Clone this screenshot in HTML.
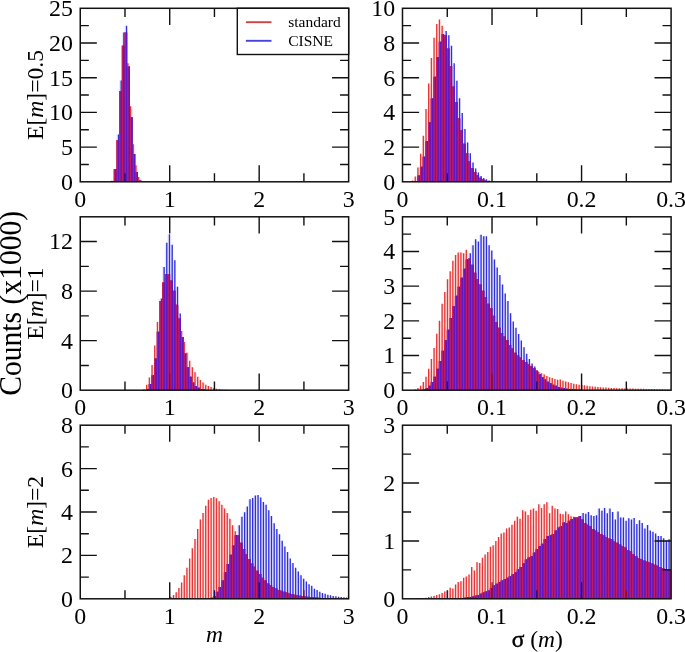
<!DOCTYPE html>
<html><head><meta charset="utf-8"><title>Counts histograms</title>
<style>html,body{margin:0;padding:0;background:#fff;}svg{display:block;}</style></head>
<body>
<svg width="685" height="652" viewBox="0 0 685 652">
<rect width="685" height="652" fill="#fff"/>
<defs>
<clipPath id="c00"><rect x="80.25" y="8.3" width="268.4" height="173.5"/></clipPath>
<clipPath id="c01"><rect x="402.5" y="8.3" width="268.6" height="173.5"/></clipPath>
<clipPath id="c10"><rect x="80.25" y="216.8" width="268.4" height="173.4"/></clipPath>
<clipPath id="c11"><rect x="402.5" y="216.8" width="268.6" height="173.4"/></clipPath>
<clipPath id="c20"><rect x="80.25" y="425.2" width="268.4" height="173.6"/></clipPath>
<clipPath id="c21"><rect x="402.5" y="425.2" width="268.6" height="173.6"/></clipPath>
<filter id="hb" filterUnits="userSpaceOnUse" x="0" y="0" width="685" height="652"><feGaussianBlur stdDeviation="0.55 0.25"/></filter>
</defs>
<g clip-path="url(#c00)" fill="none">
<path d="M112.46 181.8V180.76M115.14 181.8V169.31M117.83 181.8V140.16M120.51 181.8V90.89M123.19 181.8V45.78M125.88 181.8V32.59M128.56 181.8V63.13M131.25 181.8V106.15M133.93 181.8V144.32M136.61 181.8V165.14M139.3 181.8V176.94M141.98 181.8V180.41" stroke="#ffe2e2" stroke-width="2.72"/>
<path d="M112.46 181.8V181.11M115.14 181.8V169.31M117.83 181.8V134.61M120.51 181.8V80.48M123.19 181.8V32.59M125.88 181.8V25.65M128.56 181.8V66.6M131.25 181.8V117.26M133.93 181.8V154.04M136.61 181.8V172.08M139.3 181.8V180.41" stroke="#e6e6ff" stroke-width="2.72"/>
<path d="M112.46 181.8V181.11M115.14 181.8V169.31M117.83 181.8V140.16M120.51 181.8V90.89M123.19 181.8V45.78M125.88 181.8V32.59M128.56 181.8V66.6M131.25 181.8V117.26M133.93 181.8V154.04M136.61 181.8V172.08M139.3 181.8V180.41" stroke="#9a1890" stroke-width="2.72"/>
<path d="M111.79 181.8V180.76M114.47 181.8V169.31M117.15 181.8V140.16M119.84 181.8V90.89M122.52 181.8V45.78M125.21 181.8V32.59M127.89 181.8V63.13M130.57 181.8V106.15M133.26 181.8V144.32M135.94 181.8V165.14M138.63 181.8V176.94M141.31 181.8V180.41" stroke="#e43636" stroke-width="1.34"/>
<path d="M113.13 181.8V181.11M115.81 181.8V169.31M118.5 181.8V134.61M121.18 181.8V80.48M123.86 181.8V32.59M126.55 181.8V25.65M129.23 181.8V66.6M131.92 181.8V117.26M134.6 181.8V154.04M137.28 181.8V172.08M139.97 181.8V180.41" stroke="#3030d8" stroke-width="1.34"/>
<path d="M111.79 181.8V181.11M114.47 181.8V169.31M117.15 181.8V140.16M119.84 181.8V90.89M122.52 181.8V45.78M125.21 181.8V32.59M127.89 181.8V66.6M130.57 181.8V117.26M133.26 181.8V154.04M135.94 181.8V172.08M138.63 181.8V180.41" stroke="#c41a62" stroke-width="1.34"/>
<path d="M113.13 181.8V181.11M115.81 181.8V169.31M118.5 181.8V140.16M121.18 181.8V90.89M123.86 181.8V45.78M126.55 181.8V32.59M129.23 181.8V66.6M131.92 181.8V117.26M134.6 181.8V154.04M137.28 181.8V172.08M139.97 181.8V180.41" stroke="#6216c4" stroke-width="1.27"/>
</g>
<g clip-path="url(#c01)" fill="none">
<path d="M413.24 181.8V180.59M415.93 181.8V176.59M418.62 181.8V167.57M421.3 181.8V153.69M423.99 181.8V135.65M426.67 181.8V108.93M429.36 181.8V83.43M432.05 181.8V57.92M434.73 181.8V37.79M437.42 181.8V23.92M440.1 181.8V19.58M442.79 181.8V25.65M445.48 181.8V35.19M448.16 181.8V48.55M450.85 181.8V65.9M453.53 181.8V86.38M456.22 181.8V101.99M458.91 181.8V118.3M461.59 181.8V130.27M464.28 181.8V143.63M466.96 181.8V153.17M469.65 181.8V161.15M472.34 181.8V167.92M475.02 181.8V171.91M477.71 181.8V175.03M480.39 181.8V177.81M483.08 181.8V179.37M485.77 181.8V180.41M488.45 181.8V181.11" stroke="#ffe2e2" stroke-width="2.73"/>
<path d="M415.93 181.8V180.93M418.62 181.8V175.55M421.3 181.8V166.71M423.99 181.8V156.64M426.67 181.8V141.2M429.36 181.8V122.29M432.05 181.8V98.52M434.73 181.8V76.66M437.42 181.8V56.88M440.1 181.8V41.79M442.79 181.8V34.33M445.48 181.8V31.03M448.16 181.8V35.19M450.85 181.8V45.78M453.53 181.8V63.3M456.22 181.8V80.65M458.91 181.8V98.17M461.59 181.8V112.92M464.28 181.8V129.06M466.96 181.8V142.42M469.65 181.8V153.17M472.34 181.8V162.54M475.02 181.8V168.44M477.71 181.8V172.43M480.39 181.8V175.9M483.08 181.8V177.98M485.77 181.8V179.37M488.45 181.8V180.41M491.14 181.8V181.28" stroke="#e6e6ff" stroke-width="2.73"/>
<path d="M415.93 181.8V180.93M418.62 181.8V175.55M421.3 181.8V166.71M423.99 181.8V156.64M426.67 181.8V141.2M429.36 181.8V122.29M432.05 181.8V98.52M434.73 181.8V76.66M437.42 181.8V56.88M440.1 181.8V41.79M442.79 181.8V34.33M445.48 181.8V35.19M448.16 181.8V48.55M450.85 181.8V65.9M453.53 181.8V86.38M456.22 181.8V101.99M458.91 181.8V118.3M461.59 181.8V130.27M464.28 181.8V143.63M466.96 181.8V153.17M469.65 181.8V161.15M472.34 181.8V167.92M475.02 181.8V171.91M477.71 181.8V175.03M480.39 181.8V177.81M483.08 181.8V179.37M485.77 181.8V180.41M488.45 181.8V181.11" stroke="#9a1890" stroke-width="2.73"/>
<path d="M412.57 181.8V180.59M415.26 181.8V176.59M417.94 181.8V167.57M420.63 181.8V153.69M423.32 181.8V135.65M426 181.8V108.93M428.69 181.8V83.43M431.37 181.8V57.92M434.06 181.8V37.79M436.75 181.8V23.92M439.43 181.8V19.58M442.12 181.8V25.65M444.8 181.8V35.19M447.49 181.8V48.55M450.18 181.8V65.9M452.86 181.8V86.38M455.55 181.8V101.99M458.23 181.8V118.3M460.92 181.8V130.27M463.61 181.8V143.63M466.29 181.8V153.17M468.98 181.8V161.15M471.66 181.8V167.92M474.35 181.8V171.91M477.04 181.8V175.03M479.72 181.8V177.81M482.41 181.8V179.37M485.09 181.8V180.41M487.78 181.8V181.11" stroke="#e43636" stroke-width="1.34"/>
<path d="M416.6 181.8V180.93M419.29 181.8V175.55M421.97 181.8V166.71M424.66 181.8V156.64M427.35 181.8V141.2M430.03 181.8V122.29M432.72 181.8V98.52M435.4 181.8V76.66M438.09 181.8V56.88M440.78 181.8V41.79M443.46 181.8V34.33M446.15 181.8V31.03M448.83 181.8V35.19M451.52 181.8V45.78M454.21 181.8V63.3M456.89 181.8V80.65M459.58 181.8V98.17M462.26 181.8V112.92M464.95 181.8V129.06M467.64 181.8V142.42M470.32 181.8V153.17M473.01 181.8V162.54M475.69 181.8V168.44M478.38 181.8V172.43M481.07 181.8V175.9M483.75 181.8V177.98M486.44 181.8V179.37M489.12 181.8V180.41M491.81 181.8V181.28" stroke="#3030d8" stroke-width="1.34"/>
<path d="M415.26 181.8V180.93M417.94 181.8V175.55M420.63 181.8V166.71M423.32 181.8V156.64M426 181.8V141.2M428.69 181.8V122.29M431.37 181.8V98.52M434.06 181.8V76.66M436.75 181.8V56.88M439.43 181.8V41.79M442.12 181.8V34.33M444.8 181.8V35.19M447.49 181.8V48.55M450.18 181.8V65.9M452.86 181.8V86.38M455.55 181.8V101.99M458.23 181.8V118.3M460.92 181.8V130.27M463.61 181.8V143.63M466.29 181.8V153.17M468.98 181.8V161.15M471.66 181.8V167.92M474.35 181.8V171.91M477.04 181.8V175.03M479.72 181.8V177.81M482.41 181.8V179.37M485.09 181.8V180.41M487.78 181.8V181.11" stroke="#c41a62" stroke-width="1.34"/>
<path d="M416.6 181.8V180.93M419.29 181.8V175.55M421.97 181.8V166.71M424.66 181.8V156.64M427.35 181.8V141.2M430.03 181.8V122.29M432.72 181.8V98.52M435.4 181.8V76.66M438.09 181.8V56.88M440.78 181.8V41.79M443.46 181.8V34.33M446.15 181.8V35.19M448.83 181.8V48.55M451.52 181.8V65.9M454.21 181.8V86.38M456.89 181.8V101.99M459.58 181.8V118.3M462.26 181.8V130.27M464.95 181.8V143.63M467.64 181.8V153.17M470.32 181.8V161.15M473.01 181.8V167.92M475.69 181.8V171.91M478.38 181.8V175.03M481.07 181.8V177.81M483.75 181.8V179.37M486.44 181.8V180.41M489.12 181.8V181.11" stroke="#6216c4" stroke-width="1.28"/>
</g>
<g clip-path="url(#c10)" fill="none">
<path d="M144.67 390.2V389.33M147.35 390.2V384.63M150.03 390.2V377.44M152.72 390.2V365.06M155.4 390.2V345.61M158.09 390.2V322.08M160.77 390.2V301.02M163.45 390.2V282.44M166.14 390.2V274.27M168.82 390.2V274.27M171.51 390.2V280.46M174.19 390.2V290.74M176.87 390.2V304.74M179.56 390.2V318.61M182.24 390.2V331M184.93 390.2V341.9M187.61 390.2V352.8M190.29 390.2V360.72M192.98 390.2V367.29M195.66 390.2V372.36M198.35 390.2V376.7M201.03 390.2V379.92M203.71 390.2V382.52M206.4 390.2V384.63M209.08 390.2V386.11M211.77 390.2V387.1M214.45 390.2V387.97M217.13 390.2V388.71M219.82 390.2V389.09M222.5 390.2V389.46M225.19 390.2V389.7M227.87 390.2V389.83M230.55 390.2V389.95" stroke="#ffe2e2" stroke-width="2.72"/>
<path d="M147.35 390.2V389.09M150.03 390.2V384.01M152.72 390.2V375.34M155.4 390.2V358.62M158.09 390.2V331.74M160.77 390.2V298.55M163.45 390.2V266.96M166.14 390.2V242.81M168.82 390.2V234.14M171.51 390.2V244.67M174.19 390.2V260.15M176.87 390.2V286.66M179.56 390.2V313.53M182.24 390.2V336.94M184.93 390.2V353.54M187.61 390.2V367.29M190.29 390.2V376.7M192.98 390.2V382.52M195.66 390.2V386.11M198.35 390.2V387.85M201.03 390.2V388.96M203.71 390.2V389.58M206.4 390.2V389.95" stroke="#e6e6ff" stroke-width="2.72"/>
<path d="M147.35 390.2V389.09M150.03 390.2V384.01M152.72 390.2V375.34M155.4 390.2V358.62M158.09 390.2V331.74M160.77 390.2V301.02M163.45 390.2V282.44M166.14 390.2V274.27M168.82 390.2V274.27M171.51 390.2V280.46M174.19 390.2V290.74M176.87 390.2V304.74M179.56 390.2V318.61M182.24 390.2V336.94M184.93 390.2V353.54M187.61 390.2V367.29M190.29 390.2V376.7M192.98 390.2V382.52M195.66 390.2V386.11M198.35 390.2V387.85M201.03 390.2V388.96M203.71 390.2V389.58M206.4 390.2V389.95" stroke="#9a1890" stroke-width="2.72"/>
<path d="M144 390.2V389.33M146.68 390.2V384.63M149.36 390.2V377.44M152.05 390.2V365.06M154.73 390.2V345.61M157.42 390.2V322.08M160.1 390.2V301.02M162.78 390.2V282.44M165.47 390.2V274.27M168.15 390.2V274.27M170.83 390.2V280.46M173.52 390.2V290.74M176.2 390.2V304.74M178.89 390.2V318.61M181.57 390.2V331M184.25 390.2V341.9M186.94 390.2V352.8M189.62 390.2V360.72M192.31 390.2V367.29M194.99 390.2V372.36M197.68 390.2V376.7M200.36 390.2V379.92M203.04 390.2V382.52M205.73 390.2V384.63M208.41 390.2V386.11M211.09 390.2V387.1M213.78 390.2V387.97M216.46 390.2V388.71M219.15 390.2V389.09M221.83 390.2V389.46M224.51 390.2V389.7M227.2 390.2V389.83M229.88 390.2V389.95" stroke="#e43636" stroke-width="1.34"/>
<path d="M148.02 390.2V389.09M150.7 390.2V384.01M153.39 390.2V375.34M156.07 390.2V358.62M158.76 390.2V331.74M161.44 390.2V298.55M164.12 390.2V266.96M166.81 390.2V242.81M169.49 390.2V234.14M172.18 390.2V244.67M174.86 390.2V260.15M177.54 390.2V286.66M180.23 390.2V313.53M182.91 390.2V336.94M185.6 390.2V353.54M188.28 390.2V367.29M190.96 390.2V376.7M193.65 390.2V382.52M196.33 390.2V386.11M199.02 390.2V387.85M201.7 390.2V388.96M204.38 390.2V389.58M207.07 390.2V389.95" stroke="#3030d8" stroke-width="1.34"/>
<path d="M146.68 390.2V389.09M149.36 390.2V384.01M152.05 390.2V375.34M154.73 390.2V358.62M157.42 390.2V331.74M160.1 390.2V301.02M162.78 390.2V282.44M165.47 390.2V274.27M168.15 390.2V274.27M170.83 390.2V280.46M173.52 390.2V290.74M176.2 390.2V304.74M178.89 390.2V318.61M181.57 390.2V336.94M184.25 390.2V353.54M186.94 390.2V367.29M189.62 390.2V376.7M192.31 390.2V382.52M194.99 390.2V386.11M197.68 390.2V387.85M200.36 390.2V388.96M203.04 390.2V389.58M205.73 390.2V389.95" stroke="#c41a62" stroke-width="1.34"/>
<path d="M148.02 390.2V389.09M150.7 390.2V384.01M153.39 390.2V375.34M156.07 390.2V358.62M158.76 390.2V331.74M161.44 390.2V301.02M164.12 390.2V282.44M166.81 390.2V274.27M169.49 390.2V274.27M172.18 390.2V280.46M174.86 390.2V290.74M177.54 390.2V304.74M180.23 390.2V318.61M182.91 390.2V336.94M185.6 390.2V353.54M188.28 390.2V367.29M190.96 390.2V376.7M193.65 390.2V382.52M196.33 390.2V386.11M199.02 390.2V387.85M201.7 390.2V388.96M204.38 390.2V389.58M207.07 390.2V389.95" stroke="#6216c4" stroke-width="1.27"/>
</g>
<g clip-path="url(#c11)" fill="none">
<path d="M415.93 390.2V389.51M418.62 390.2V388.12M421.3 390.2V385.69M423.99 390.2V381.88M426.67 390.2V376.67M429.36 390.2V368.7M432.05 390.2V358.99M434.73 390.2V347.89M437.42 390.2V333.67M440.1 390.2V320.84M442.79 390.2V303.85M445.48 390.2V292.06M448.16 390.2V279.22M450.85 390.2V271.25M453.53 390.2V260.84M456.22 390.2V254.95M458.91 390.2V252.52M461.59 390.2V252.52M464.28 390.2V253.21M466.96 390.2V249.75M469.65 390.2V258.42M472.34 390.2V264.66M475.02 390.2V272.63M477.71 390.2V279.22M480.39 390.2V284.43M483.08 390.2V290.67M485.77 390.2V297.26M488.45 390.2V303.85M491.14 390.2V308.36M493.82 390.2V315.64M496.51 390.2V321.88M499.2 390.2V327.78M501.88 390.2V332.98M504.57 390.2V336.45M507.25 390.2V339.91M509.94 390.2V345.12M512.63 390.2V348.58M515.31 390.2V352.75M518 390.2V355.52M520.68 390.2V357.6M523.37 390.2V360.2M526.06 390.2V362.11M528.74 390.2V364.19M531.43 390.2V365.92M534.11 390.2V368M536.8 390.2V370.09M539.49 390.2V371.99M542.17 390.2V373.21M544.86 390.2V374.59M547.54 390.2V375.98M550.23 390.2V377.37M552.92 390.2V378.06M555.6 390.2V379.1M558.29 390.2V379.8M560.97 390.2V379.45M563.66 390.2V380.66M566.35 390.2V381.53M569.03 390.2V382.22M571.72 390.2V382.92M574.4 390.2V383.78M577.09 390.2V384.3M579.78 390.2V384.82M582.46 390.2V385.1M585.15 390.2V385.34M587.83 390.2V385.87M590.52 390.2V386.14M593.21 390.2V386.39M595.89 390.2V386.73M598.58 390.2V386.94M601.26 390.2V387.18M603.95 390.2V387.43M606.64 390.2V387.6M609.32 390.2V387.77M612.01 390.2V387.95M614.69 390.2V388.12M617.38 390.2V388.22M620.07 390.2V388.29M622.75 390.2V388.35M625.44 390.2V388.42M628.12 390.2V388.48M630.81 390.2V388.54M633.5 390.2V388.61M636.18 390.2V388.67M638.87 390.2V388.74M641.55 390.2V388.8M644.24 390.2V388.86M646.93 390.2V388.93M649.61 390.2V388.99M652.3 390.2V389.06M654.98 390.2V389.12M657.67 390.2V389.19M660.36 390.2V389.25M663.04 390.2V389.31M665.73 390.2V389.38M668.41 390.2V389.44M671.1 390.2V389.51" stroke="#ffe2e2" stroke-width="2.73"/>
<path d="M423.99 390.2V389.51M426.67 390.2V388.12M429.36 390.2V385.69M432.05 390.2V381.88M434.73 390.2V376.67M437.42 390.2V368.7M440.1 390.2V361.07M442.79 390.2V350.66M445.48 390.2V340.26M448.16 390.2V329.86M450.85 390.2V318.07M453.53 390.2V306.27M456.22 390.2V295.87M458.91 390.2V286.85M461.59 390.2V277.84M464.28 390.2V268.82M466.96 390.2V259.46M469.65 390.2V253.21M472.34 390.2V245.24M475.02 390.2V239.34M477.71 390.2V241.42M480.39 390.2V234.83M483.08 390.2V236.22M485.77 390.2V236.22M488.45 390.2V245.24M491.14 390.2V250.44M493.82 390.2V259.46M496.51 390.2V267.43M499.2 390.2V275.06M501.88 390.2V284.43M504.57 390.2V293.44M507.25 390.2V301.07M509.94 390.2V313.21M512.63 390.2V321.53M515.31 390.2V327.78M518 390.2V334.02M520.68 390.2V340.61M523.37 390.2V347.2M526.06 390.2V353.79M528.74 390.2V358.99M531.43 390.2V363.5M534.11 390.2V366.62M536.8 390.2V370.78M539.49 390.2V374.25M542.17 390.2V377.37M544.86 390.2V379.45M547.54 390.2V381.7M550.23 390.2V383.26M552.92 390.2V384.82M555.6 390.2V385.87M558.29 390.2V386.94M560.97 390.2V387.77M563.66 390.2V388.22M566.35 390.2V388.64M569.03 390.2V388.99M571.72 390.2V389.33M574.4 390.2V389.51M577.09 390.2V389.68M579.78 390.2V389.85" stroke="#e6e6ff" stroke-width="2.73"/>
<path d="M423.99 390.2V389.51M426.67 390.2V388.12M429.36 390.2V385.69M432.05 390.2V381.88M434.73 390.2V376.67M437.42 390.2V368.7M440.1 390.2V361.07M442.79 390.2V350.66M445.48 390.2V340.26M448.16 390.2V329.86M450.85 390.2V318.07M453.53 390.2V306.27M456.22 390.2V295.87M458.91 390.2V286.85M461.59 390.2V277.84M464.28 390.2V268.82M466.96 390.2V259.46M469.65 390.2V258.42M472.34 390.2V264.66M475.02 390.2V272.63M477.71 390.2V279.22M480.39 390.2V284.43M483.08 390.2V290.67M485.77 390.2V297.26M488.45 390.2V303.85M491.14 390.2V308.36M493.82 390.2V315.64M496.51 390.2V321.88M499.2 390.2V327.78M501.88 390.2V332.98M504.57 390.2V336.45M507.25 390.2V339.91M509.94 390.2V345.12M512.63 390.2V348.58M515.31 390.2V352.75M518 390.2V355.52M520.68 390.2V357.6M523.37 390.2V360.2M526.06 390.2V362.11M528.74 390.2V364.19M531.43 390.2V365.92M534.11 390.2V368M536.8 390.2V370.78M539.49 390.2V374.25M542.17 390.2V377.37M544.86 390.2V379.45M547.54 390.2V381.7M550.23 390.2V383.26M552.92 390.2V384.82M555.6 390.2V385.87M558.29 390.2V386.94M560.97 390.2V387.77M563.66 390.2V388.22M566.35 390.2V388.64M569.03 390.2V388.99M571.72 390.2V389.33M574.4 390.2V389.51M577.09 390.2V389.68M579.78 390.2V389.85" stroke="#9a1890" stroke-width="2.73"/>
<path d="M415.26 390.2V389.51M417.94 390.2V388.12M420.63 390.2V385.69M423.32 390.2V381.88M426 390.2V376.67M428.69 390.2V368.7M431.37 390.2V358.99M434.06 390.2V347.89M436.75 390.2V333.67M439.43 390.2V320.84M442.12 390.2V303.85M444.8 390.2V292.06M447.49 390.2V279.22M450.18 390.2V271.25M452.86 390.2V260.84M455.55 390.2V254.95M458.23 390.2V252.52M460.92 390.2V252.52M463.61 390.2V253.21M466.29 390.2V249.75M468.98 390.2V258.42M471.66 390.2V264.66M474.35 390.2V272.63M477.04 390.2V279.22M479.72 390.2V284.43M482.41 390.2V290.67M485.09 390.2V297.26M487.78 390.2V303.85M490.47 390.2V308.36M493.15 390.2V315.64M495.84 390.2V321.88M498.52 390.2V327.78M501.21 390.2V332.98M503.9 390.2V336.45M506.58 390.2V339.91M509.27 390.2V345.12M511.95 390.2V348.58M514.64 390.2V352.75M517.33 390.2V355.52M520.01 390.2V357.6M522.7 390.2V360.2M525.38 390.2V362.11M528.07 390.2V364.19M530.76 390.2V365.92M533.44 390.2V368M536.13 390.2V370.09M538.81 390.2V371.99M541.5 390.2V373.21M544.19 390.2V374.59M546.87 390.2V375.98M549.56 390.2V377.37M552.24 390.2V378.06M554.93 390.2V379.1M557.62 390.2V379.8M560.3 390.2V379.45M562.99 390.2V380.66M565.67 390.2V381.53M568.36 390.2V382.22M571.05 390.2V382.92M573.73 390.2V383.78M576.42 390.2V384.3M579.1 390.2V384.82M581.79 390.2V385.1M584.48 390.2V385.34M587.16 390.2V385.87M589.85 390.2V386.14M592.53 390.2V386.39M595.22 390.2V386.73M597.91 390.2V386.94M600.59 390.2V387.18M603.28 390.2V387.43M605.96 390.2V387.6M608.65 390.2V387.77M611.34 390.2V387.95M614.02 390.2V388.12M616.71 390.2V388.22M619.39 390.2V388.29M622.08 390.2V388.35M624.77 390.2V388.42M627.45 390.2V388.48M630.14 390.2V388.54M632.82 390.2V388.61M635.51 390.2V388.67M638.2 390.2V388.74M640.88 390.2V388.8M643.57 390.2V388.86M646.25 390.2V388.93M648.94 390.2V388.99M651.63 390.2V389.06M654.31 390.2V389.12M657 390.2V389.19M659.68 390.2V389.25M662.37 390.2V389.31M665.06 390.2V389.38M667.74 390.2V389.44M670.43 390.2V389.51" stroke="#e43636" stroke-width="1.34"/>
<path d="M424.66 390.2V389.51M427.35 390.2V388.12M430.03 390.2V385.69M432.72 390.2V381.88M435.4 390.2V376.67M438.09 390.2V368.7M440.78 390.2V361.07M443.46 390.2V350.66M446.15 390.2V340.26M448.83 390.2V329.86M451.52 390.2V318.07M454.21 390.2V306.27M456.89 390.2V295.87M459.58 390.2V286.85M462.26 390.2V277.84M464.95 390.2V268.82M467.64 390.2V259.46M470.32 390.2V253.21M473.01 390.2V245.24M475.69 390.2V239.34M478.38 390.2V241.42M481.07 390.2V234.83M483.75 390.2V236.22M486.44 390.2V236.22M489.12 390.2V245.24M491.81 390.2V250.44M494.5 390.2V259.46M497.18 390.2V267.43M499.87 390.2V275.06M502.55 390.2V284.43M505.24 390.2V293.44M507.93 390.2V301.07M510.61 390.2V313.21M513.3 390.2V321.53M515.98 390.2V327.78M518.67 390.2V334.02M521.36 390.2V340.61M524.04 390.2V347.2M526.73 390.2V353.79M529.41 390.2V358.99M532.1 390.2V363.5M534.79 390.2V366.62M537.47 390.2V370.78M540.16 390.2V374.25M542.84 390.2V377.37M545.53 390.2V379.45M548.22 390.2V381.7M550.9 390.2V383.26M553.59 390.2V384.82M556.27 390.2V385.87M558.96 390.2V386.94M561.65 390.2V387.77M564.33 390.2V388.22M567.02 390.2V388.64M569.7 390.2V388.99M572.39 390.2V389.33M575.08 390.2V389.51M577.76 390.2V389.68M580.45 390.2V389.85" stroke="#3030d8" stroke-width="1.34"/>
<path d="M423.32 390.2V389.51M426 390.2V388.12M428.69 390.2V385.69M431.37 390.2V381.88M434.06 390.2V376.67M436.75 390.2V368.7M439.43 390.2V361.07M442.12 390.2V350.66M444.8 390.2V340.26M447.49 390.2V329.86M450.18 390.2V318.07M452.86 390.2V306.27M455.55 390.2V295.87M458.23 390.2V286.85M460.92 390.2V277.84M463.61 390.2V268.82M466.29 390.2V259.46M468.98 390.2V258.42M471.66 390.2V264.66M474.35 390.2V272.63M477.04 390.2V279.22M479.72 390.2V284.43M482.41 390.2V290.67M485.09 390.2V297.26M487.78 390.2V303.85M490.47 390.2V308.36M493.15 390.2V315.64M495.84 390.2V321.88M498.52 390.2V327.78M501.21 390.2V332.98M503.9 390.2V336.45M506.58 390.2V339.91M509.27 390.2V345.12M511.95 390.2V348.58M514.64 390.2V352.75M517.33 390.2V355.52M520.01 390.2V357.6M522.7 390.2V360.2M525.38 390.2V362.11M528.07 390.2V364.19M530.76 390.2V365.92M533.44 390.2V368M536.13 390.2V370.78M538.81 390.2V374.25M541.5 390.2V377.37M544.19 390.2V379.45M546.87 390.2V381.7M549.56 390.2V383.26M552.24 390.2V384.82M554.93 390.2V385.87M557.62 390.2V386.94M560.3 390.2V387.77M562.99 390.2V388.22M565.67 390.2V388.64M568.36 390.2V388.99M571.05 390.2V389.33M573.73 390.2V389.51M576.42 390.2V389.68M579.1 390.2V389.85" stroke="#c41a62" stroke-width="1.34"/>
<path d="M424.66 390.2V389.51M427.35 390.2V388.12M430.03 390.2V385.69M432.72 390.2V381.88M435.4 390.2V376.67M438.09 390.2V368.7M440.78 390.2V361.07M443.46 390.2V350.66M446.15 390.2V340.26M448.83 390.2V329.86M451.52 390.2V318.07M454.21 390.2V306.27M456.89 390.2V295.87M459.58 390.2V286.85M462.26 390.2V277.84M464.95 390.2V268.82M467.64 390.2V259.46M470.32 390.2V258.42M473.01 390.2V264.66M475.69 390.2V272.63M478.38 390.2V279.22M481.07 390.2V284.43M483.75 390.2V290.67M486.44 390.2V297.26M489.12 390.2V303.85M491.81 390.2V308.36M494.5 390.2V315.64M497.18 390.2V321.88M499.87 390.2V327.78M502.55 390.2V332.98M505.24 390.2V336.45M507.93 390.2V339.91M510.61 390.2V345.12M513.3 390.2V348.58M515.98 390.2V352.75M518.67 390.2V355.52M521.36 390.2V357.6M524.04 390.2V360.2M526.73 390.2V362.11M529.41 390.2V364.19M532.1 390.2V365.92M534.79 390.2V368M537.47 390.2V370.78M540.16 390.2V374.25M542.84 390.2V377.37M545.53 390.2V379.45M548.22 390.2V381.7M550.9 390.2V383.26M553.59 390.2V384.82M556.27 390.2V385.87M558.96 390.2V386.94M561.65 390.2V387.77M564.33 390.2V388.22M567.02 390.2V388.64M569.7 390.2V388.99M572.39 390.2V389.33M575.08 390.2V389.51M577.76 390.2V389.68M580.45 390.2V389.85" stroke="#6216c4" stroke-width="1.28"/>
</g>
<g clip-path="url(#c20)" fill="none">
<path d="M163.45 598.8V598.54M166.14 598.8V598.37M168.82 598.8V598.15M171.51 598.8V596.63M174.19 598.8V594.89M176.87 598.8V592.29M179.56 598.8V587.95M182.24 598.8V582.52M184.93 598.8V575.15M187.61 598.8V567.77M190.29 598.8V558.44M192.98 598.8V548.24M195.66 598.8V539.12M198.35 598.8V528.93M201.03 598.8V519.59M203.71 598.8V513.08M206.4 598.8V505.71M209.08 598.8V499.85M211.77 598.8V497.89M214.45 598.8V497.03M217.13 598.8V498.33M219.82 598.8V501.15M222.5 598.8V504.84M225.19 598.8V508.53M227.87 598.8V513.08M230.55 598.8V518.73M233.24 598.8V525.24M235.92 598.8V531.31M238.61 598.8V535.22M241.29 598.8V542.81M243.97 598.8V549.11M246.66 598.8V553.88M249.34 598.8V559.31M252.03 598.8V563.43M254.71 598.8V566.68M257.39 598.8V570.81M260.08 598.8V574.06M262.76 598.8V577.75M265.45 598.8V580.57M268.13 598.8V583.39M270.81 598.8V585.13M273.5 598.8V587.08M276.18 598.8V588.6M278.87 598.8V589.9M281.55 598.8V590.77M284.23 598.8V591.86M286.92 598.8V592.62M289.6 598.8V593.38M292.29 598.8V594.03M294.97 598.8V594.68M297.65 598.8V595.2M300.34 598.8V595.76M303.02 598.8V596.2M305.71 598.8V596.5M308.39 598.8V596.85M311.07 598.8V597.06M313.76 598.8V597.28M316.44 598.8V597.5M319.13 598.8V597.71M321.81 598.8V597.93M324.49 598.8V598.04M327.18 598.8V598.15M329.86 598.8V598.26M332.55 598.8V598.37M335.23 598.8V598.47" stroke="#ffe2e2" stroke-width="2.72"/>
<path d="M206.4 598.8V598.58M209.08 598.8V598.37M211.77 598.8V597.71M214.45 598.8V595.98M217.13 598.8V591.64M219.82 598.8V587.08M222.5 598.8V580.57M225.19 598.8V572.33M227.87 598.8V564.08M230.55 598.8V554.75M233.24 598.8V545.42M235.92 598.8V535.22M238.61 598.8V525.24M241.29 598.8V516.77M243.97 598.8V512.22M246.66 598.8V506.57M249.34 598.8V499.2M252.03 598.8V497.89M254.71 598.8V495.51M257.39 598.8V495.07M260.08 598.8V497.46M262.76 598.8V502.02M265.45 598.8V504.84M268.13 598.8V510.26M270.81 598.8V515.91M273.5 598.8V523.28M276.18 598.8V528.93M278.87 598.8V534.35M281.55 598.8V540.86M284.23 598.8V546.5M286.92 598.8V551.93M289.6 598.8V558.44M292.29 598.8V563M294.97 598.8V567.77M297.65 598.8V571.46M300.34 598.8V575.15M303.02 598.8V578.84M305.71 598.8V581.44M308.39 598.8V584.26M311.07 598.8V585.78M313.76 598.8V588.82M316.44 598.8V589.9M319.13 598.8V591.64M321.81 598.8V592.94M324.49 598.8V593.81M327.18 598.8V594.68M329.86 598.8V595.33M332.55 598.8V595.98M335.23 598.8V596.3M337.91 598.8V596.63M340.6 598.8V597.06M343.28 598.8V597.28M345.97 598.8V597.5M348.65 598.8V597.71" stroke="#e6e6ff" stroke-width="2.72"/>
<path d="M206.4 598.8V598.58M209.08 598.8V598.37M211.77 598.8V597.71M214.45 598.8V595.98M217.13 598.8V591.64M219.82 598.8V587.08M222.5 598.8V580.57M225.19 598.8V572.33M227.87 598.8V564.08M230.55 598.8V554.75M233.24 598.8V545.42M235.92 598.8V535.22M238.61 598.8V535.22M241.29 598.8V542.81M243.97 598.8V549.11M246.66 598.8V553.88M249.34 598.8V559.31M252.03 598.8V563.43M254.71 598.8V566.68M257.39 598.8V570.81M260.08 598.8V574.06M262.76 598.8V577.75M265.45 598.8V580.57M268.13 598.8V583.39M270.81 598.8V585.13M273.5 598.8V587.08M276.18 598.8V588.6M278.87 598.8V589.9M281.55 598.8V590.77M284.23 598.8V591.86M286.92 598.8V592.62M289.6 598.8V593.38M292.29 598.8V594.03M294.97 598.8V594.68M297.65 598.8V595.2M300.34 598.8V595.76M303.02 598.8V596.2M305.71 598.8V596.5M308.39 598.8V596.85M311.07 598.8V597.06M313.76 598.8V597.28M316.44 598.8V597.5M319.13 598.8V597.71M321.81 598.8V597.93M324.49 598.8V598.04M327.18 598.8V598.15M329.86 598.8V598.26M332.55 598.8V598.37M335.23 598.8V598.47" stroke="#9a1890" stroke-width="2.72"/>
<path d="M162.78 598.8V598.54M165.47 598.8V598.37M168.15 598.8V598.15M170.83 598.8V596.63M173.52 598.8V594.89M176.2 598.8V592.29M178.89 598.8V587.95M181.57 598.8V582.52M184.25 598.8V575.15M186.94 598.8V567.77M189.62 598.8V558.44M192.31 598.8V548.24M194.99 598.8V539.12M197.68 598.8V528.93M200.36 598.8V519.59M203.04 598.8V513.08M205.73 598.8V505.71M208.41 598.8V499.85M211.09 598.8V497.89M213.78 598.8V497.03M216.46 598.8V498.33M219.15 598.8V501.15M221.83 598.8V504.84M224.51 598.8V508.53M227.2 598.8V513.08M229.88 598.8V518.73M232.57 598.8V525.24M235.25 598.8V531.31M237.94 598.8V535.22M240.62 598.8V542.81M243.3 598.8V549.11M245.99 598.8V553.88M248.67 598.8V559.31M251.35 598.8V563.43M254.04 598.8V566.68M256.72 598.8V570.81M259.41 598.8V574.06M262.09 598.8V577.75M264.77 598.8V580.57M267.46 598.8V583.39M270.14 598.8V585.13M272.83 598.8V587.08M275.51 598.8V588.6M278.19 598.8V589.9M280.88 598.8V590.77M283.56 598.8V591.86M286.25 598.8V592.62M288.93 598.8V593.38M291.61 598.8V594.03M294.3 598.8V594.68M296.98 598.8V595.2M299.67 598.8V595.76M302.35 598.8V596.2M305.04 598.8V596.5M307.72 598.8V596.85M310.4 598.8V597.06M313.09 598.8V597.28M315.77 598.8V597.5M318.45 598.8V597.71M321.14 598.8V597.93M323.82 598.8V598.04M326.51 598.8V598.15M329.19 598.8V598.26M331.87 598.8V598.37M334.56 598.8V598.47" stroke="#e43636" stroke-width="1.34"/>
<path d="M207.07 598.8V598.58M209.75 598.8V598.37M212.44 598.8V597.71M215.12 598.8V595.98M217.8 598.8V591.64M220.49 598.8V587.08M223.17 598.8V580.57M225.86 598.8V572.33M228.54 598.8V564.08M231.22 598.8V554.75M233.91 598.8V545.42M236.59 598.8V535.22M239.28 598.8V525.24M241.96 598.8V516.77M244.64 598.8V512.22M247.33 598.8V506.57M250.01 598.8V499.2M252.7 598.8V497.89M255.38 598.8V495.51M258.06 598.8V495.07M260.75 598.8V497.46M263.43 598.8V502.02M266.12 598.8V504.84M268.8 598.8V510.26M271.48 598.8V515.91M274.17 598.8V523.28M276.85 598.8V528.93M279.54 598.8V534.35M282.22 598.8V540.86M284.9 598.8V546.5M287.59 598.8V551.93M290.27 598.8V558.44M292.96 598.8V563M295.64 598.8V567.77M298.32 598.8V571.46M301.01 598.8V575.15M303.69 598.8V578.84M306.38 598.8V581.44M309.06 598.8V584.26M311.74 598.8V585.78M314.43 598.8V588.82M317.11 598.8V589.9M319.8 598.8V591.64M322.48 598.8V592.94M325.16 598.8V593.81M327.85 598.8V594.68M330.53 598.8V595.33M333.22 598.8V595.98M335.9 598.8V596.3M338.58 598.8V596.63M341.27 598.8V597.06M343.95 598.8V597.28M346.64 598.8V597.5M349.32 598.8V597.71" stroke="#3030d8" stroke-width="1.34"/>
<path d="M205.73 598.8V598.58M208.41 598.8V598.37M211.09 598.8V597.71M213.78 598.8V595.98M216.46 598.8V591.64M219.15 598.8V587.08M221.83 598.8V580.57M224.51 598.8V572.33M227.2 598.8V564.08M229.88 598.8V554.75M232.57 598.8V545.42M235.25 598.8V535.22M237.94 598.8V535.22M240.62 598.8V542.81M243.3 598.8V549.11M245.99 598.8V553.88M248.67 598.8V559.31M251.35 598.8V563.43M254.04 598.8V566.68M256.72 598.8V570.81M259.41 598.8V574.06M262.09 598.8V577.75M264.77 598.8V580.57M267.46 598.8V583.39M270.14 598.8V585.13M272.83 598.8V587.08M275.51 598.8V588.6M278.19 598.8V589.9M280.88 598.8V590.77M283.56 598.8V591.86M286.25 598.8V592.62M288.93 598.8V593.38M291.61 598.8V594.03M294.3 598.8V594.68M296.98 598.8V595.2M299.67 598.8V595.76M302.35 598.8V596.2M305.04 598.8V596.5M307.72 598.8V596.85M310.4 598.8V597.06M313.09 598.8V597.28M315.77 598.8V597.5M318.45 598.8V597.71M321.14 598.8V597.93M323.82 598.8V598.04M326.51 598.8V598.15M329.19 598.8V598.26M331.87 598.8V598.37M334.56 598.8V598.47" stroke="#c41a62" stroke-width="1.34"/>
<path d="M207.07 598.8V598.58M209.75 598.8V598.37M212.44 598.8V597.71M215.12 598.8V595.98M217.8 598.8V591.64M220.49 598.8V587.08M223.17 598.8V580.57M225.86 598.8V572.33M228.54 598.8V564.08M231.22 598.8V554.75M233.91 598.8V545.42M236.59 598.8V535.22M239.28 598.8V535.22M241.96 598.8V542.81M244.64 598.8V549.11M247.33 598.8V553.88M250.01 598.8V559.31M252.7 598.8V563.43M255.38 598.8V566.68M258.06 598.8V570.81M260.75 598.8V574.06M263.43 598.8V577.75M266.12 598.8V580.57M268.8 598.8V583.39M271.48 598.8V585.13M274.17 598.8V587.08M276.85 598.8V588.6M279.54 598.8V589.9M282.22 598.8V590.77M284.9 598.8V591.86M287.59 598.8V592.62M290.27 598.8V593.38M292.96 598.8V594.03M295.64 598.8V594.68M298.32 598.8V595.2M301.01 598.8V595.76M303.69 598.8V596.2M306.38 598.8V596.5M309.06 598.8V596.85M311.74 598.8V597.06M314.43 598.8V597.28M317.11 598.8V597.5M319.8 598.8V597.71M322.48 598.8V597.93M325.16 598.8V598.04M327.85 598.8V598.15M330.53 598.8V598.26M333.22 598.8V598.37M335.9 598.8V598.47" stroke="#6216c4" stroke-width="1.27"/>
</g>
<g clip-path="url(#c21)" fill="none">
<path d="M421.3 598.8V598.22M423.99 598.8V597.99M426.67 598.8V597.64M429.36 598.8V597.06M432.05 598.8V596.49M434.73 598.8V595.91M437.42 598.8V595.1M440.1 598.8V594.17M442.79 598.8V593.01M445.48 598.8V591.39M448.16 598.8V590.41M450.85 598.8V587.81M453.53 598.8V588.38M456.22 598.8V584.62M458.91 598.8V582.02M461.59 598.8V581.15M464.28 598.8V577.68M466.96 598.8V576.46M469.65 598.8V574.5M472.34 598.8V566.97M475.02 598.8V570.45M477.71 598.8V562.34M480.39 598.8V562.92M483.08 598.8V557.71M485.77 598.8V554.53M488.45 598.8V551.93M491.14 598.8V546.72M493.82 598.8V545.27M496.51 598.8V540.93M499.2 598.8V536.88M501.88 598.8V533.41M504.57 598.8V532.54M507.25 598.8V528.49M509.94 598.8V527.62M512.63 598.8V524.73M515.31 598.8V520.68M518 598.8V516.63M520.68 598.8V518.65M523.37 598.8V510.26M526.06 598.8V511.42M528.74 598.8V514.89M531.43 598.8V509.69M534.11 598.8V508.53M536.8 598.8V510.84M539.49 598.8V504.19M542.17 598.8V507.95M544.86 598.8V504.19M547.54 598.8V502.16M550.23 598.8V513.16M552.92 598.8V505.63M555.6 598.8V508.53M558.29 598.8V509.11M560.97 598.8V513.74M563.66 598.8V514.31M566.35 598.8V511.42M569.03 598.8V514.31M571.72 598.8V516.34M574.4 598.8V516.63M577.09 598.8V517.38M579.78 598.8V516.34M582.46 598.8V519.52M585.15 598.8V522.99M587.83 598.8V524.73M590.52 598.8V526.18M593.21 598.8V529.07M595.89 598.8V530.52M598.58 598.8V532.25M601.26 598.8V533.99M603.95 598.8V535.15M606.64 598.8V537.17M609.32 598.8V538.62M612.01 598.8V539.2M614.69 598.8V541.51M617.38 598.8V542.67M620.07 598.8V544.41M622.75 598.8V545.97M625.44 598.8V547.53M628.12 598.8V550.37M630.81 598.8V551.35M633.5 598.8V554.24M636.18 598.8V556.27M638.87 598.8V558.29M641.55 598.8V559.16M644.24 598.8V560.61M646.93 598.8V561.59M649.61 598.8V562.34M652.3 598.8V563.5M654.98 598.8V564.66M657.67 598.8V565.82M660.36 598.8V566.97M663.04 598.8V567.96M665.73 598.8V569.06M668.41 598.8V569.87M671.1 598.8V570.16" stroke="#ffe2e2" stroke-width="2.73"/>
<path d="M450.85 598.8V598.63M453.53 598.8V598.51M456.22 598.8V598.39M458.91 598.8V598.22M461.59 598.8V597.99M464.28 598.8V597.64M466.96 598.8V597.35M469.65 598.8V596.95M472.34 598.8V596.49M475.02 598.8V595.73M477.71 598.8V594.92M480.39 598.8V593.71M483.08 598.8V592.43M485.77 598.8V591.45M488.45 598.8V590.41M491.14 598.8V588.09M493.82 598.8V585.49M496.51 598.8V583.75M499.2 598.8V582.02M501.88 598.8V580.57M504.57 598.8V579.13M507.25 598.8V577.68M509.94 598.8V576.23M512.63 598.8V574.21M515.31 598.8V572.18M518 598.8V569.58M520.68 598.8V566.97M523.37 598.8V563.21M526.06 598.8V559.45M528.74 598.8V557.43M531.43 598.8V555.98M534.11 598.8V552.51M536.8 598.8V549.27M539.49 598.8V545.97M542.17 598.8V543.83M544.86 598.8V539.37M547.54 598.8V536.07M550.23 598.8V535.15M552.92 598.8V533.99M555.6 598.8V530.52M558.29 598.8V527.62M560.97 598.8V526.18M563.66 598.8V522.42M566.35 598.8V522.99M569.03 598.8V520.68M571.72 598.8V518.94M574.4 598.8V517.38M577.09 598.8V517.38M579.78 598.8V515.88M582.46 598.8V512.98M585.15 598.8V513.74M587.83 598.8V512M590.52 598.8V515.18M593.21 598.8V515.88M595.89 598.8V515.18M598.58 598.8V508.53M601.26 598.8V510.84M603.95 598.8V507.95M606.64 598.8V513.16M609.32 598.8V508.53M612.01 598.8V512M614.69 598.8V519.52M617.38 598.8V511.42M620.07 598.8V517.38M622.75 598.8V517.38M625.44 598.8V520.68M628.12 598.8V518.37M630.81 598.8V519.52M633.5 598.8V518.08M636.18 598.8V523.98M638.87 598.8V520.27M641.55 598.8V522.99M644.24 598.8V528.38M646.93 598.8V525.08M649.61 598.8V530.52M652.3 598.8V531.67M654.98 598.8V533.41M657.67 598.8V536.07M660.36 598.8V536.07M663.04 598.8V538.27M665.73 598.8V540.47M668.41 598.8V539.37M671.1 598.8V540.93" stroke="#e6e6ff" stroke-width="2.73"/>
<path d="M450.85 598.8V598.63M453.53 598.8V598.51M456.22 598.8V598.39M458.91 598.8V598.22M461.59 598.8V597.99M464.28 598.8V597.64M466.96 598.8V597.35M469.65 598.8V596.95M472.34 598.8V596.49M475.02 598.8V595.73M477.71 598.8V594.92M480.39 598.8V593.71M483.08 598.8V592.43M485.77 598.8V591.45M488.45 598.8V590.41M491.14 598.8V588.09M493.82 598.8V585.49M496.51 598.8V583.75M499.2 598.8V582.02M501.88 598.8V580.57M504.57 598.8V579.13M507.25 598.8V577.68M509.94 598.8V576.23M512.63 598.8V574.21M515.31 598.8V572.18M518 598.8V569.58M520.68 598.8V566.97M523.37 598.8V563.21M526.06 598.8V559.45M528.74 598.8V557.43M531.43 598.8V555.98M534.11 598.8V552.51M536.8 598.8V549.27M539.49 598.8V545.97M542.17 598.8V543.83M544.86 598.8V539.37M547.54 598.8V536.07M550.23 598.8V535.15M552.92 598.8V533.99M555.6 598.8V530.52M558.29 598.8V527.62M560.97 598.8V526.18M563.66 598.8V522.42M566.35 598.8V522.99M569.03 598.8V520.68M571.72 598.8V518.94M574.4 598.8V517.38M577.09 598.8V517.38M579.78 598.8V516.34M582.46 598.8V519.52M585.15 598.8V522.99M587.83 598.8V524.73M590.52 598.8V526.18M593.21 598.8V529.07M595.89 598.8V530.52M598.58 598.8V532.25M601.26 598.8V533.99M603.95 598.8V535.15M606.64 598.8V537.17M609.32 598.8V538.62M612.01 598.8V539.2M614.69 598.8V541.51M617.38 598.8V542.67M620.07 598.8V544.41M622.75 598.8V545.97M625.44 598.8V547.53M628.12 598.8V550.37M630.81 598.8V551.35M633.5 598.8V554.24M636.18 598.8V556.27M638.87 598.8V558.29M641.55 598.8V559.16M644.24 598.8V560.61M646.93 598.8V561.59M649.61 598.8V562.34M652.3 598.8V563.5M654.98 598.8V564.66M657.67 598.8V565.82M660.36 598.8V566.97M663.04 598.8V567.96M665.73 598.8V569.06M668.41 598.8V569.87M671.1 598.8V570.16" stroke="#9a1890" stroke-width="2.73"/>
<path d="M420.63 598.8V598.22M423.32 598.8V597.99M426 598.8V597.64M428.69 598.8V597.06M431.37 598.8V596.49M434.06 598.8V595.91M436.75 598.8V595.1M439.43 598.8V594.17M442.12 598.8V593.01M444.8 598.8V591.39M447.49 598.8V590.41M450.18 598.8V587.81M452.86 598.8V588.38M455.55 598.8V584.62M458.23 598.8V582.02M460.92 598.8V581.15M463.61 598.8V577.68M466.29 598.8V576.46M468.98 598.8V574.5M471.66 598.8V566.97M474.35 598.8V570.45M477.04 598.8V562.34M479.72 598.8V562.92M482.41 598.8V557.71M485.09 598.8V554.53M487.78 598.8V551.93M490.47 598.8V546.72M493.15 598.8V545.27M495.84 598.8V540.93M498.52 598.8V536.88M501.21 598.8V533.41M503.9 598.8V532.54M506.58 598.8V528.49M509.27 598.8V527.62M511.95 598.8V524.73M514.64 598.8V520.68M517.33 598.8V516.63M520.01 598.8V518.65M522.7 598.8V510.26M525.38 598.8V511.42M528.07 598.8V514.89M530.76 598.8V509.69M533.44 598.8V508.53M536.13 598.8V510.84M538.81 598.8V504.19M541.5 598.8V507.95M544.19 598.8V504.19M546.87 598.8V502.16M549.56 598.8V513.16M552.24 598.8V505.63M554.93 598.8V508.53M557.62 598.8V509.11M560.3 598.8V513.74M562.99 598.8V514.31M565.67 598.8V511.42M568.36 598.8V514.31M571.05 598.8V516.34M573.73 598.8V516.63M576.42 598.8V517.38M579.1 598.8V516.34M581.79 598.8V519.52M584.48 598.8V522.99M587.16 598.8V524.73M589.85 598.8V526.18M592.53 598.8V529.07M595.22 598.8V530.52M597.91 598.8V532.25M600.59 598.8V533.99M603.28 598.8V535.15M605.96 598.8V537.17M608.65 598.8V538.62M611.34 598.8V539.2M614.02 598.8V541.51M616.71 598.8V542.67M619.39 598.8V544.41M622.08 598.8V545.97M624.77 598.8V547.53M627.45 598.8V550.37M630.14 598.8V551.35M632.82 598.8V554.24M635.51 598.8V556.27M638.2 598.8V558.29M640.88 598.8V559.16M643.57 598.8V560.61M646.25 598.8V561.59M648.94 598.8V562.34M651.63 598.8V563.5M654.31 598.8V564.66M657 598.8V565.82M659.68 598.8V566.97M662.37 598.8V567.96M665.06 598.8V569.06M667.74 598.8V569.87M670.43 598.8V570.16" stroke="#e43636" stroke-width="1.34"/>
<path d="M451.52 598.8V598.63M454.21 598.8V598.51M456.89 598.8V598.39M459.58 598.8V598.22M462.26 598.8V597.99M464.95 598.8V597.64M467.64 598.8V597.35M470.32 598.8V596.95M473.01 598.8V596.49M475.69 598.8V595.73M478.38 598.8V594.92M481.07 598.8V593.71M483.75 598.8V592.43M486.44 598.8V591.45M489.12 598.8V590.41M491.81 598.8V588.09M494.5 598.8V585.49M497.18 598.8V583.75M499.87 598.8V582.02M502.55 598.8V580.57M505.24 598.8V579.13M507.93 598.8V577.68M510.61 598.8V576.23M513.3 598.8V574.21M515.98 598.8V572.18M518.67 598.8V569.58M521.36 598.8V566.97M524.04 598.8V563.21M526.73 598.8V559.45M529.41 598.8V557.43M532.1 598.8V555.98M534.79 598.8V552.51M537.47 598.8V549.27M540.16 598.8V545.97M542.84 598.8V543.83M545.53 598.8V539.37M548.22 598.8V536.07M550.9 598.8V535.15M553.59 598.8V533.99M556.27 598.8V530.52M558.96 598.8V527.62M561.65 598.8V526.18M564.33 598.8V522.42M567.02 598.8V522.99M569.7 598.8V520.68M572.39 598.8V518.94M575.08 598.8V517.38M577.76 598.8V517.38M580.45 598.8V515.88M583.13 598.8V512.98M585.82 598.8V513.74M588.51 598.8V512M591.19 598.8V515.18M593.88 598.8V515.88M596.56 598.8V515.18M599.25 598.8V508.53M601.94 598.8V510.84M604.62 598.8V507.95M607.31 598.8V513.16M609.99 598.8V508.53M612.68 598.8V512M615.37 598.8V519.52M618.05 598.8V511.42M620.74 598.8V517.38M623.42 598.8V517.38M626.11 598.8V520.68M628.8 598.8V518.37M631.48 598.8V519.52M634.17 598.8V518.08M636.85 598.8V523.98M639.54 598.8V520.27M642.23 598.8V522.99M644.91 598.8V528.38M647.6 598.8V525.08M650.28 598.8V530.52M652.97 598.8V531.67M655.66 598.8V533.41M658.34 598.8V536.07M661.03 598.8V536.07M663.71 598.8V538.27M666.4 598.8V540.47M669.09 598.8V539.37M671.77 598.8V540.93" stroke="#3030d8" stroke-width="1.34"/>
<path d="M450.18 598.8V598.63M452.86 598.8V598.51M455.55 598.8V598.39M458.23 598.8V598.22M460.92 598.8V597.99M463.61 598.8V597.64M466.29 598.8V597.35M468.98 598.8V596.95M471.66 598.8V596.49M474.35 598.8V595.73M477.04 598.8V594.92M479.72 598.8V593.71M482.41 598.8V592.43M485.09 598.8V591.45M487.78 598.8V590.41M490.47 598.8V588.09M493.15 598.8V585.49M495.84 598.8V583.75M498.52 598.8V582.02M501.21 598.8V580.57M503.9 598.8V579.13M506.58 598.8V577.68M509.27 598.8V576.23M511.95 598.8V574.21M514.64 598.8V572.18M517.33 598.8V569.58M520.01 598.8V566.97M522.7 598.8V563.21M525.38 598.8V559.45M528.07 598.8V557.43M530.76 598.8V555.98M533.44 598.8V552.51M536.13 598.8V549.27M538.81 598.8V545.97M541.5 598.8V543.83M544.19 598.8V539.37M546.87 598.8V536.07M549.56 598.8V535.15M552.24 598.8V533.99M554.93 598.8V530.52M557.62 598.8V527.62M560.3 598.8V526.18M562.99 598.8V522.42M565.67 598.8V522.99M568.36 598.8V520.68M571.05 598.8V518.94M573.73 598.8V517.38M576.42 598.8V517.38M579.1 598.8V516.34M581.79 598.8V519.52M584.48 598.8V522.99M587.16 598.8V524.73M589.85 598.8V526.18M592.53 598.8V529.07M595.22 598.8V530.52M597.91 598.8V532.25M600.59 598.8V533.99M603.28 598.8V535.15M605.96 598.8V537.17M608.65 598.8V538.62M611.34 598.8V539.2M614.02 598.8V541.51M616.71 598.8V542.67M619.39 598.8V544.41M622.08 598.8V545.97M624.77 598.8V547.53M627.45 598.8V550.37M630.14 598.8V551.35M632.82 598.8V554.24M635.51 598.8V556.27M638.2 598.8V558.29M640.88 598.8V559.16M643.57 598.8V560.61M646.25 598.8V561.59M648.94 598.8V562.34M651.63 598.8V563.5M654.31 598.8V564.66M657 598.8V565.82M659.68 598.8V566.97M662.37 598.8V567.96M665.06 598.8V569.06M667.74 598.8V569.87M670.43 598.8V570.16" stroke="#c41a62" stroke-width="1.34"/>
<path d="M451.52 598.8V598.63M454.21 598.8V598.51M456.89 598.8V598.39M459.58 598.8V598.22M462.26 598.8V597.99M464.95 598.8V597.64M467.64 598.8V597.35M470.32 598.8V596.95M473.01 598.8V596.49M475.69 598.8V595.73M478.38 598.8V594.92M481.07 598.8V593.71M483.75 598.8V592.43M486.44 598.8V591.45M489.12 598.8V590.41M491.81 598.8V588.09M494.5 598.8V585.49M497.18 598.8V583.75M499.87 598.8V582.02M502.55 598.8V580.57M505.24 598.8V579.13M507.93 598.8V577.68M510.61 598.8V576.23M513.3 598.8V574.21M515.98 598.8V572.18M518.67 598.8V569.58M521.36 598.8V566.97M524.04 598.8V563.21M526.73 598.8V559.45M529.41 598.8V557.43M532.1 598.8V555.98M534.79 598.8V552.51M537.47 598.8V549.27M540.16 598.8V545.97M542.84 598.8V543.83M545.53 598.8V539.37M548.22 598.8V536.07M550.9 598.8V535.15M553.59 598.8V533.99M556.27 598.8V530.52M558.96 598.8V527.62M561.65 598.8V526.18M564.33 598.8V522.42M567.02 598.8V522.99M569.7 598.8V520.68M572.39 598.8V518.94M575.08 598.8V517.38M577.76 598.8V517.38M580.45 598.8V516.34M583.13 598.8V519.52M585.82 598.8V522.99M588.51 598.8V524.73M591.19 598.8V526.18M593.88 598.8V529.07M596.56 598.8V530.52M599.25 598.8V532.25M601.94 598.8V533.99M604.62 598.8V535.15M607.31 598.8V537.17M609.99 598.8V538.62M612.68 598.8V539.2M615.37 598.8V541.51M618.05 598.8V542.67M620.74 598.8V544.41M623.42 598.8V545.97M626.11 598.8V547.53M628.8 598.8V550.37M631.48 598.8V551.35M634.17 598.8V554.24M636.85 598.8V556.27M639.54 598.8V558.29M642.23 598.8V559.16M644.91 598.8V560.61M647.6 598.8V561.59M650.28 598.8V562.34M652.97 598.8V563.5M655.66 598.8V564.66M658.34 598.8V565.82M661.03 598.8V566.97M663.71 598.8V567.96M666.4 598.8V569.06M669.09 598.8V569.87M671.77 598.8V570.16" stroke="#6216c4" stroke-width="1.28"/>
</g>
<path d="M124.98 181.8v-8.6" stroke="#14106e" stroke-width="1.25" fill="none"/>
<path d="M169.72 181.8v-16.6M214.45 181.8v-8.6M259.18 181.8v-16.6M303.92 181.8v-8.6" stroke="#111" stroke-width="1.4" fill="none"/>
<path d="M124.98 8.3v8.6M169.72 8.3v16.6M214.45 8.3v8.6M259.18 8.3v16.6M303.92 8.3v8.6M80.25 164.45h8.6M348.65 164.45h-8.6M80.25 147.1h16.6M348.65 147.1h-16.6M80.25 129.75h8.6M348.65 129.75h-8.6M80.25 112.4h16.6M348.65 112.4h-16.6M80.25 95.05h8.6M348.65 95.05h-8.6M80.25 77.7h16.6M348.65 77.7h-16.6M80.25 60.35h8.6M348.65 60.35h-8.6M80.25 43h16.6M348.65 43h-16.6M80.25 25.65h8.6M348.65 25.65h-8.6" stroke="#111" stroke-width="1.4" fill="none"/>
<rect x="80.25" y="8.3" width="268.4" height="173.5" fill="none" stroke="#111" stroke-width="1.5"/>
<path d="M447.27 181.8v-8.6" stroke="#14106e" stroke-width="1.25" fill="none"/>
<path d="M492.03 181.8v-16.6M536.8 181.8v-8.6M581.57 181.8v-16.6M626.33 181.8v-8.6" stroke="#111" stroke-width="1.4" fill="none"/>
<path d="M447.27 8.3v8.6M492.03 8.3v16.6M536.8 8.3v8.6M581.57 8.3v16.6M626.33 8.3v8.6M402.5 164.45h8.6M671.1 164.45h-8.6M402.5 147.1h16.6M671.1 147.1h-16.6M402.5 129.75h8.6M671.1 129.75h-8.6M402.5 112.4h16.6M671.1 112.4h-16.6M402.5 95.05h8.6M671.1 95.05h-8.6M402.5 77.7h16.6M671.1 77.7h-16.6M402.5 60.35h8.6M671.1 60.35h-8.6M402.5 43h16.6M671.1 43h-16.6M402.5 25.65h8.6M671.1 25.65h-8.6" stroke="#111" stroke-width="1.4" fill="none"/>
<rect x="402.5" y="8.3" width="268.6" height="173.5" fill="none" stroke="#111" stroke-width="1.5"/>
<path d="M169.72 390.2v-16.6" stroke="#8c0a24" stroke-width="1.25" fill="none"/>
<path d="M124.98 390.2v-8.6M214.45 390.2v-8.6M259.18 390.2v-16.6M303.92 390.2v-8.6" stroke="#111" stroke-width="1.4" fill="none"/>
<path d="M124.98 216.8v8.6M169.72 216.8v16.6M214.45 216.8v8.6M259.18 216.8v16.6M303.92 216.8v8.6M80.25 365.43h8.6M348.65 365.43h-8.6M80.25 340.66h16.6M348.65 340.66h-16.6M80.25 315.89h8.6M348.65 315.89h-8.6M80.25 291.11h16.6M348.65 291.11h-16.6M80.25 266.34h8.6M348.65 266.34h-8.6M80.25 241.57h16.6M348.65 241.57h-16.6" stroke="#111" stroke-width="1.4" fill="none"/>
<rect x="80.25" y="216.8" width="268.4" height="173.4" fill="none" stroke="#111" stroke-width="1.5"/>
<path d="M447.27 390.2v-8.6" stroke="#14106e" stroke-width="1.25" fill="none"/>
<path d="M492.03 390.2v-16.6" stroke="#8c0a24" stroke-width="1.25" fill="none"/>
<path d="M536.8 390.2v-8.6" stroke="#14106e" stroke-width="1.25" fill="none"/>
<path d="M581.57 390.2v-16.6M626.33 390.2v-8.6" stroke="#111" stroke-width="1.4" fill="none"/>
<path d="M447.27 216.8v8.6M492.03 216.8v16.6M536.8 216.8v8.6M581.57 216.8v16.6M626.33 216.8v8.6M402.5 372.86h8.6M671.1 372.86h-8.6M402.5 355.52h16.6M671.1 355.52h-16.6M402.5 338.18h8.6M671.1 338.18h-8.6M402.5 320.84h16.6M671.1 320.84h-16.6M402.5 303.5h8.6M671.1 303.5h-8.6M402.5 286.16h16.6M671.1 286.16h-16.6M402.5 268.82h8.6M671.1 268.82h-8.6M402.5 251.48h16.6M671.1 251.48h-16.6M402.5 234.14h8.6M671.1 234.14h-8.6" stroke="#111" stroke-width="1.4" fill="none"/>
<rect x="402.5" y="216.8" width="268.6" height="173.4" fill="none" stroke="#111" stroke-width="1.5"/>
<path d="M214.45 598.8v-8.6" stroke="#14106e" stroke-width="1.25" fill="none"/>
<path d="M259.18 598.8v-16.6" stroke="#100c60" stroke-width="1.25" fill="none"/>
<path d="M303.92 598.8v-8.6" stroke="#8c0a24" stroke-width="1.25" fill="none"/>
<path d="M124.98 598.8v-8.6M169.72 598.8v-16.6" stroke="#111" stroke-width="1.4" fill="none"/>
<path d="M124.98 425.2v8.6M169.72 425.2v16.6M214.45 425.2v8.6M259.18 425.2v16.6M303.92 425.2v8.6M80.25 577.1h8.6M348.65 577.1h-8.6M80.25 555.4h16.6M348.65 555.4h-16.6M80.25 533.7h8.6M348.65 533.7h-8.6M80.25 512h16.6M348.65 512h-16.6M80.25 490.3h8.6M348.65 490.3h-8.6M80.25 468.6h16.6M348.65 468.6h-16.6M80.25 446.9h8.6M348.65 446.9h-8.6" stroke="#111" stroke-width="1.4" fill="none"/>
<rect x="80.25" y="425.2" width="268.4" height="173.6" fill="none" stroke="#111" stroke-width="1.5"/>
<path d="M447.27 598.8v-8.6" stroke="#14106e" stroke-width="1.25" fill="none"/>
<path d="M492.03 598.8v-16.6" stroke="#8c0a24" stroke-width="1.25" fill="none"/>
<path d="M536.8 598.8v-8.6" stroke="#14106e" stroke-width="1.25" fill="none"/>
<path d="M581.57 598.8v-16.6" stroke="#100c60" stroke-width="1.25" fill="none"/>
<path d="M626.33 598.8v-8.6" stroke="#8c0a24" stroke-width="1.25" fill="none"/>
<path d="" stroke="#111" stroke-width="1.4" fill="none"/>
<path d="M447.27 425.2v8.6M492.03 425.2v16.6M536.8 425.2v8.6M581.57 425.2v16.6M626.33 425.2v8.6M402.5 569.87h8.6M671.1 569.87h-8.6M402.5 540.93h16.6M671.1 540.93h-16.6M402.5 512h8.6M671.1 512h-8.6M402.5 483.07h16.6M671.1 483.07h-16.6M402.5 454.13h8.6M671.1 454.13h-8.6" stroke="#111" stroke-width="1.4" fill="none"/>
<rect x="402.5" y="425.2" width="268.6" height="173.6" fill="none" stroke="#111" stroke-width="1.5"/>
<rect x="237.3" y="8.3" width="111.35" height="46.2" fill="#fff" stroke="#111" stroke-width="1.4"/>
<path d="M245.9 22.2H271.5" stroke="#cd4444" stroke-width="1.9"/>
<path d="M245.9 40.8H271.5" stroke="#4444dc" stroke-width="1.9"/>
<g font-family="Liberation Serif, Times New Roman, serif" fill="#000">
<text x="288.2" y="26.6" font-size="15.5">standard</text>
<text x="288.2" y="45.9" font-size="15.5">CISNE</text>
<text x="72.85" y="189.7" font-size="23.9" text-anchor="end">0</text>
<text x="72.85" y="155" font-size="23.9" text-anchor="end">5</text>
<text x="72.85" y="120.3" font-size="23.9" text-anchor="end">10</text>
<text x="72.85" y="85.6" font-size="23.9" text-anchor="end">15</text>
<text x="72.85" y="50.9" font-size="23.9" text-anchor="end">20</text>
<text x="72.85" y="16.2" font-size="23.9" text-anchor="end">25</text>
<text x="80.25" y="206.6" font-size="23.9" text-anchor="middle">0</text>
<text x="169.72" y="206.6" font-size="23.9" text-anchor="middle">1</text>
<text x="259.18" y="206.6" font-size="23.9" text-anchor="middle">2</text>
<text x="348.65" y="206.6" font-size="23.9" text-anchor="middle">3</text>
<text x="395.1" y="189.7" font-size="23.9" text-anchor="end">0</text>
<text x="395.1" y="155" font-size="23.9" text-anchor="end">2</text>
<text x="395.1" y="120.3" font-size="23.9" text-anchor="end">4</text>
<text x="395.1" y="85.6" font-size="23.9" text-anchor="end">6</text>
<text x="395.1" y="50.9" font-size="23.9" text-anchor="end">8</text>
<text x="395.1" y="16.2" font-size="23.9" text-anchor="end">10</text>
<text x="402.5" y="206.6" font-size="23.9" text-anchor="middle">0</text>
<text x="492.03" y="206.6" font-size="23.9" text-anchor="middle">0.1</text>
<text x="581.57" y="206.6" font-size="23.9" text-anchor="middle">0.2</text>
<text x="671.1" y="206.6" font-size="23.9" text-anchor="middle">0.3</text>
<text x="72.85" y="398.1" font-size="23.9" text-anchor="end">0</text>
<text x="72.85" y="348.56" font-size="23.9" text-anchor="end">4</text>
<text x="72.85" y="299.01" font-size="23.9" text-anchor="end">8</text>
<text x="72.85" y="249.47" font-size="23.9" text-anchor="end">12</text>
<text x="80.25" y="415" font-size="23.9" text-anchor="middle">0</text>
<text x="169.72" y="415" font-size="23.9" text-anchor="middle">1</text>
<text x="259.18" y="415" font-size="23.9" text-anchor="middle">2</text>
<text x="348.65" y="415" font-size="23.9" text-anchor="middle">3</text>
<text x="395.1" y="398.1" font-size="23.9" text-anchor="end">0</text>
<text x="395.1" y="363.42" font-size="23.9" text-anchor="end">1</text>
<text x="395.1" y="328.74" font-size="23.9" text-anchor="end">2</text>
<text x="395.1" y="294.06" font-size="23.9" text-anchor="end">3</text>
<text x="395.1" y="259.38" font-size="23.9" text-anchor="end">4</text>
<text x="395.1" y="224.7" font-size="23.9" text-anchor="end">5</text>
<text x="402.5" y="415" font-size="23.9" text-anchor="middle">0</text>
<text x="492.03" y="415" font-size="23.9" text-anchor="middle">0.1</text>
<text x="581.57" y="415" font-size="23.9" text-anchor="middle">0.2</text>
<text x="671.1" y="415" font-size="23.9" text-anchor="middle">0.3</text>
<text x="72.85" y="606.7" font-size="23.9" text-anchor="end">0</text>
<text x="72.85" y="563.3" font-size="23.9" text-anchor="end">2</text>
<text x="72.85" y="519.9" font-size="23.9" text-anchor="end">4</text>
<text x="72.85" y="476.5" font-size="23.9" text-anchor="end">6</text>
<text x="72.85" y="433.1" font-size="23.9" text-anchor="end">8</text>
<text x="80.25" y="623.6" font-size="23.9" text-anchor="middle">0</text>
<text x="169.72" y="623.6" font-size="23.9" text-anchor="middle">1</text>
<text x="259.18" y="623.6" font-size="23.9" text-anchor="middle">2</text>
<text x="348.65" y="623.6" font-size="23.9" text-anchor="middle">3</text>
<text x="395.1" y="606.7" font-size="23.9" text-anchor="end">0</text>
<text x="395.1" y="548.83" font-size="23.9" text-anchor="end">1</text>
<text x="395.1" y="490.97" font-size="23.9" text-anchor="end">2</text>
<text x="395.1" y="433.1" font-size="23.9" text-anchor="end">3</text>
<text x="402.5" y="623.6" font-size="23.9" text-anchor="middle">0</text>
<text x="492.03" y="623.6" font-size="23.9" text-anchor="middle">0.1</text>
<text x="581.57" y="623.6" font-size="23.9" text-anchor="middle">0.2</text>
<text x="671.1" y="623.6" font-size="23.9" text-anchor="middle">0.3</text>
<text transform="translate(43.3 95.05) rotate(-90)" font-size="23.6" text-anchor="middle">E[<tspan font-style="italic">m</tspan>]=0.5</text>
<text transform="translate(43.3 303.5) rotate(-90)" font-size="23.6" text-anchor="middle">E[<tspan font-style="italic">m</tspan>]=1</text>
<text transform="translate(43.3 512) rotate(-90)" font-size="23.6" text-anchor="middle">E[<tspan font-style="italic">m</tspan>]=2</text>
<text transform="translate(20.7 303.3) rotate(-90) scale(1 1.06)" font-size="29.6" text-anchor="middle">Counts (x1000)</text>
<text x="214.4" y="642.3" font-size="23.5" font-style="italic" text-anchor="middle">m</text>
<text x="537.3" y="647.3" font-size="23.5" text-anchor="middle"><tspan stroke="#000" stroke-width="0.45">σ</tspan> (<tspan font-style="italic">m</tspan>)</text>
</g></svg>
</body></html>
